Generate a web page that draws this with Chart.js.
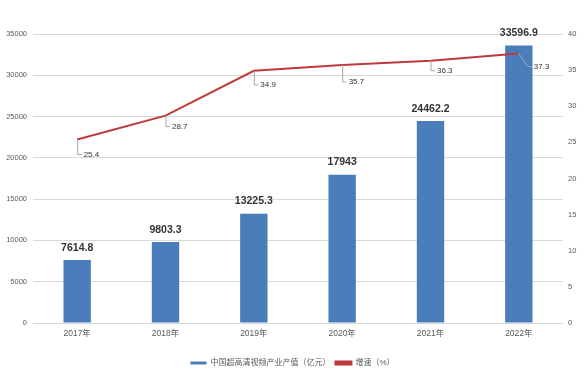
<!DOCTYPE html>
<html>
<head>
<meta charset="utf-8">
<script src="https://cdn.jsdelivr.net/npm/chart.js@4"></script>
<style>
  html, body { margin: 0; padding: 0; background: #fff; }
  #wrap { width: 585px; height: 371px; }
</style>
</head>
<body>
<div id="wrap"><canvas id="chart"></canvas></div>
<script>
const years = ['2017年', '2018年', '2019年', '2020年', '2021年', '2022年'];
const outputValue = [7614.8, 9803.3, 13225.3, 17943, 24462.2, 33596.9];  // 亿元
const growthRate = [25.4, 28.7, 34.9, 35.7, 36.3, 37.3];                 // %
const leftTicks = [0, 5000, 10000, 15000, 20000, 25000, 30000, 35000];
const rightTicks = [0, 5, 10, 15, 20, 25, 30, 35, 40];

const FONT = '"Liberation Sans", "Noto Sans CJK SC", sans-serif';
const TICK_COLOR = '#595959';

// value labels above bars + callout labels for the growth line
const labelPlugin = {
  id: 'labels',
  afterDatasetsDraw(chart) {
    const ctx = chart.ctx;
    ctx.save();

    const bars = chart.getDatasetMeta(0).data;
    ctx.font = 'bold 10.5px ' + FONT;
    ctx.fillStyle = '#333';
    ctx.textAlign = 'center';
    ctx.textBaseline = 'bottom';
    bars.forEach((bar, i) => {
      ctx.fillText(String(outputValue[i]), bar.x, bar.y - 7);
    });

    const pts = chart.getDatasetMeta(1).data;
    const drops = [15, 11, 14, 17, 10, 0];
    ctx.font = '8px ' + FONT;
    ctx.fillStyle = '#333';
    ctx.textAlign = 'left';
    ctx.textBaseline = 'middle';
    ctx.strokeStyle = '#a6a6a6';
    ctx.lineWidth = 1;
    pts.forEach((p, i) => {
      let ex, ey;
      ctx.beginPath();
      if (i === pts.length - 1) {
        ex = p.x + 9; ey = p.y + 13;
        ctx.moveTo(p.x, p.y);
        ctx.lineTo(ex, ey);
      } else {
        ex = p.x + 0.5; ey = p.y + drops[i];
        ctx.moveTo(ex, p.y);
        ctx.lineTo(ex, ey);
      }
      ctx.lineTo(ex + 4, ey);
      ctx.stroke();
      ctx.fillText(growthRate[i].toFixed(1), ex + 6, ey);
    });
    ctx.restore();
  }
};

new Chart(document.getElementById('chart'), {
  data: {
    labels: years,
    datasets: [
      {
        type: 'bar',
        label: '中国超高清视频产业产值（亿元）',
        data: outputValue,
        backgroundColor: '#4a7ebb',
        yAxisID: 'y',
        categoryPercentage: 1,
        barPercentage: 0.31,
        order: 2
      },
      {
        type: 'line',
        label: '增速（%）',
        data: growthRate,
        borderColor: '#c0393b',
        backgroundColor: '#c0393b',
        borderWidth: 2,
        pointRadius: 0,
        tension: 0,
        yAxisID: 'y1',
        order: 1
      }
    ]
  },
  options: {
    responsive: true,
    maintainAspectRatio: false,
    animation: false,
    layout: { padding: { top: 34, left: 0, right: 0, bottom: -6 } },
    scales: {
      x: {
        grid: { display: false, drawTicks: false },
        border: { display: false },
        ticks: { color: TICK_COLOR, font: { family: FONT, size: 8.5 }, padding: 6 },
        afterFit: (s) => { s.height = 31; }
      },
      y: {
        position: 'left',
        min: 0,
        max: 35000,
        afterBuildTicks: (s) => { s.ticks = leftTicks.map(v => ({ value: v })); },
        grid: { color: '#d9d9d9', drawTicks: false },
        border: { display: false },
        ticks: { color: TICK_COLOR, font: { family: FONT, size: 7.5 }, padding: 6, callback: (v) => String(v) },
        afterFit: (s) => { s.width = 33; }
      },
      y1: {
        position: 'right',
        min: 0,
        max: 40,
        afterBuildTicks: (s) => { s.ticks = rightTicks.map(v => ({ value: v })); },
        grid: { display: false, drawTicks: false },
        border: { display: false },
        ticks: { color: TICK_COLOR, font: { family: FONT, size: 7.5 }, padding: 5, callback: (v) => String(v) },
        afterFit: (s) => { s.width = 22; }
      }
    },
    plugins: {
      legend: {
        position: 'bottom',
        labels: {
          boxWidth: 16,
          boxHeight: 3,
          padding: 5,
          color: TICK_COLOR,
          font: { family: FONT, size: 8 },
          sort: (a, b) => a.datasetIndex - b.datasetIndex
        }
      },
      tooltip: { enabled: false }
    }
  },
  plugins: [labelPlugin]
});
</script>
</body>
</html>
